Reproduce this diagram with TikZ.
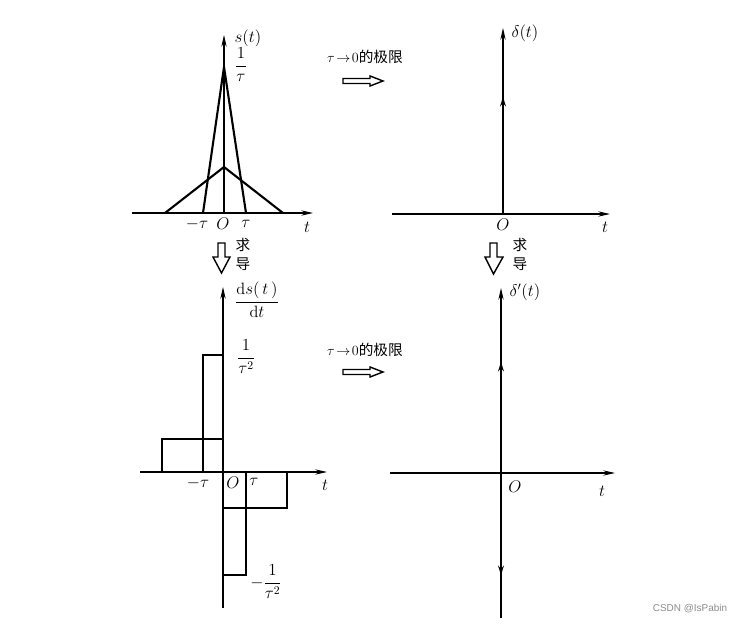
\documentclass[tikz,border=0pt]{standalone}
\usepackage{amsmath,amssymb}
\usepackage{fontspec}
\newfontfamily\cjk{Noto Sans CJK SC}
\newfontfamily\wmfont{Liberation Sans}
\usetikzlibrary{arrows.meta}
\usetikzlibrary{positioning}

\begin{document}
\begin{tikzpicture}[x=0.03cm,y=-0.03cm,
    axis/.style={line width=1pt,-{Stealth[length=10pt,width=4.5pt]}},
    curve/.style={line width=1.8pt,line join=miter},
    impulse/.style={line width=2.4pt,-{Stealth[length=8pt,width=5pt]}},
    hollow/.style={line width=1.2pt,line join=miter},
    lbl/.style={inner sep=0pt,font=\fontsize{14}{17}\selectfont},
    zh/.style={inner sep=0pt,font=\cjk\fontsize{12.5}{15}\selectfont}]
    \useasboundingbox (0,0) rectangle (756,626);
    % upper left: s(t)
    \draw[axis] (132,213) -- (313,213);
    \draw[axis] (224,213) -- (224,35);
    \draw[curve] (203,213) -- (224,67) -- (246,213);
    \draw[curve] (165,213) -- (224,167) -- (283,213);
    \node[lbl] (sl) at (248,38) {$s(t)$};
    \node[lbl] (sh) at (241,65) {$\dfrac{1}{\tau}$};
    \node[lbl] (smt) at (197,224) {$-\tau$};
    \node[lbl] (so) at (223,224) {$O$};
    \node[lbl] (spt) at (246,224) {$\tau$};
    \node[lbl] (st) at (307,227) {$t$};
    % upper right: delta(t)
    \draw[axis] (392,214) -- (610,214);
    \draw[axis] (503,214) -- (503,28);
    \draw[impulse] (503,214) -- (503,97);
    \node[lbl] (dl) at (525,33) {$\delta(t)$};
    \node[lbl] (do) at (503,225) {$O$};
    \node[lbl] (dt) at (605,227) {$t$};
    % limit arrows
    \node[zh] (lim1) at (365,57) {$\tau\!\to\!0$的极限};
    \draw[hollow] (343,78.5) -- (370,78.5) -- (370,76) -- (383,81) -- (370,86) -- (370,83.5) -- (343,83.5) -- cycle;
    \node[zh] (lim2) at (365,350) {$\tau\!\to\!0$的极限};
    \draw[hollow] (343,369.5) -- (370,369.5) -- (370,367) -- (383,372) -- (370,377) -- (370,374.5) -- (343,374.5) -- cycle;
    % derivative arrows
    \draw[hollow] (218,243) -- (225,243) -- (225,257) -- (230,257) -- (221.5,273) -- (213,257) -- (218,257) -- cycle;
    \node[zh] (qd1) at (243,245) {求};
    \node[zh] (dd1) at (243,264) {导};
    \draw[hollow] (490,243) -- (497,243) -- (497,257) -- (503,257) -- (493.5,274) -- (485,257) -- (490,257) -- cycle;
    \node[zh] (qd2) at (520,245) {求};
    \node[zh] (dd2) at (520,264) {导};
    % lower left: ds/dt
    \draw[axis] (140,472) -- (327,472);
    \draw[axis] (223,608) -- (223,287);
    \draw[curve] (162,472) -- (162,439) -- (223,439);
    \draw[curve] (203,472) -- (203,355) -- (223,355);
    \draw[curve] (223,508) -- (287,508) -- (287,472);
    \draw[curve] (223,575) -- (246,575) -- (246,472);
    \node[lbl] (gl) at (257,300) {$\dfrac{\mathrm{d}s(\,t\,)}{\mathrm{d}t}$};
    \node[lbl] (gh) at (246,357) {$\dfrac{1}{\tau^2}$};
    \node[lbl] (gmt) at (198,483) {$-\tau$};
    \node[lbl] (go) at (233,483) {$O$};
    \node[lbl] (gpt) at (254,482) {$\tau$};
    \node[lbl] (gt) at (325,485) {$t$};
    \node[lbl] (gn) at (266,582) {$-\dfrac{1}{\tau^2}$};
    % lower right: delta'(t)
    \draw[axis] (390,473) -- (615,473);
    \draw[axis] (501,618) -- (501,288);
    \draw[impulse] (501,473) -- (501,362);
    \draw[impulse] (501,473) -- (501,575);
    \node[lbl] (pl) at (525,292) {$\delta'(t)$};
    \node[lbl] (po) at (515,487) {$O$};
    \node[lbl] (pt) at (602,491) {$t$};
    % watermark
    \node[inner sep=0pt,text=black!45,font=\wmfont\fontsize{8.5}{10}\selectfont] (wm) at (690,609) {CSDN @IsPabin};
\end{tikzpicture}
\end{document}
